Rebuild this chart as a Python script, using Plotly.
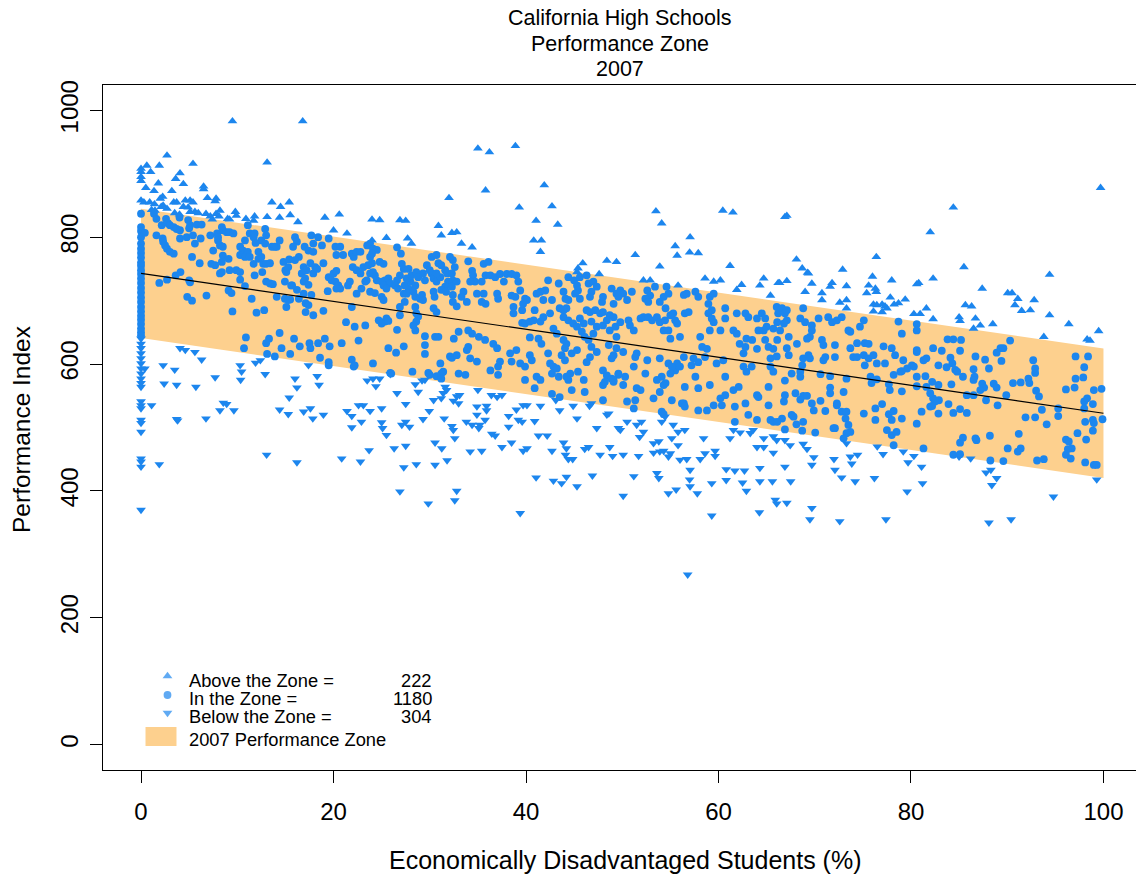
import numpy as np
import plotly.graph_objects as go

# ---------------- data ----------------
title_lines = ["California High Schools", "Performance Zone", "2007"]
x_title = "Economically Disadvantaged Students (%)"
y_title = "Performance Index"
x_ticks = [0, 20, 40, 60, 80, 100]
y_ticks = [0, 200, 400, 600, 800, 1000]

legend_labels = ["Above the Zone =", "In the Zone =", "Below the Zone ="]
legend_counts = [222, 1180, 304]
zone_label = "2007 Performance Zone"

line_x = [0, 100]
line_intercept = 743.0
line_slope = -2.205
zone_halfwidth = 102.0

above_points = [
    (0, 908), (0, 903), (0, 895), (0, 889), (0, 858),
    (9.5, 983), (2.7, 929), (5.4, 916), (0.6, 913), (1.9, 913), (1.0, 903), (4.05, 901), (3.6, 892),
    (4.4, 884), (1.8, 885), (0.5, 878), (1.35, 873), (3.2, 873), (6.5, 880), (6.5, 876), (2.25, 864),
    (2.0, 861), (6.9, 862), (7.8, 861), (7.7, 857), (13.1, 918), (0.3, 855), (0.9, 855), (1.4, 852),
    (2.3, 850), (3.4, 855), (3.7, 855), (4.6, 858), (5.1, 858), (5.4, 855), (4.4, 848), (4.9, 847),
    (2.7, 845), (2.1, 848), (5.6, 840), (5.1, 840), (5.95, 838), (6.75, 837), (8.2, 842), (7.8, 837),
    (9.8, 840), (9.9, 834), (10.9, 829), (11.8, 833), (11.7, 826), (13.1, 832), (13.6, 855), (14.5, 848),
    (15.4, 855), (15.5, 835), (14.4, 831), (16.3, 824), (9.0, 829), (9.2, 828), (7.2, 833), (7.4, 828),
    (8.1, 833), (3.5, 838), (4.0, 836), (1.45, 842), (1.1, 843),
    (16.8, 983), (32.0, 862), (19.1, 831), (20.6, 836), (20.0, 811), (21.4, 806), (24.0, 828),
    (24.8, 827), (26.9, 827), (27.5, 826), (25.5, 799), (27.7, 798), (28.1, 790), (24.0, 795), (30.9, 818),
    (31.2, 803), (32.3, 807), (32.8, 808),
    (35.0, 940), (36.2, 934), (38.9, 944), (35.8, 874), (41.9, 882), (39.3, 847), (42.7, 849), (41.05, 826),
    (43.3, 820), (33.3, 790), (34.4, 784), (40.8, 795), (41.6, 795), (41.5, 777), (45.9, 759), (45.4, 751),
    (45.3, 745), (48.4, 763), (49.4, 761), (47.6, 742),
    (53.5, 841), (54.1, 822), (60.45, 842), (61.5, 839), (57.05, 800), (55.5, 786), (55.7, 771), (57.0, 776),
    (57.9, 775), (51.35, 772), (53.9, 754), (61.2, 755), (52.2, 732), (52.9, 732), (55.8, 724), (58.6, 735),
    (59.5, 730), (60.2, 732), (62.4, 725), (61.9, 717), (64.7, 735), (64.3, 724), (65.4, 708), (66.2, 728),
    (66.9, 832), (67.1, 834), (82.0, 808), (68.1, 765), (76.4, 769), (68.7, 751), (69.25, 744), (69.35, 743),
    (72.9, 749), (76.0, 738), (66.35, 728), (67.1, 731), (69.7, 727), (71.8, 728), (71.6, 722), (73.3, 723),
    (69.0, 714), (70.75, 712), (70.75, 701), (72.6, 697), (73.3, 701), (73.3, 688), (75.4, 712), (75.6, 724),
    (76.3, 719), (76.4, 714), (76.1, 694), (76.45, 693), (77.0, 694), (77.3, 691), (77.5, 688), (77.85, 705),
    (78.0, 732), (78.25, 694), (78.7, 696), (79.4, 702), (77.0, 682), (76.1, 683), (80.6, 726), (80.8, 728),
    (82.3, 735), (80.3, 679), (80.95, 679), (81.6, 688), (82.3, 671),
    (99.7, 878), (84.4, 847), (85.5, 753), (94.4, 741), (87.4, 719), (90.05, 712), (90.5, 712), (91.1, 703),
    (92.8, 701), (90.8, 693), (91.5, 684), (92.4, 685), (85.65, 693), (86.3, 691), (85.0, 674), (85.1, 668),
    (86.7, 672), (87.2, 661), (88.5, 663), (86.5, 656), (94.4, 677), (96.4, 663), (93.8, 643), (99.5, 652),
    (98.3, 639), (98.6, 637),
]

below_points = [
    (0, 640), (0, 632), (0, 625), (0, 617), (0, 609), (0, 601), (0, 593), (0, 585), (0, 577), (0, 570),
    (0, 564), (0, 541), (0, 535), (0, 530), (0, 512), (0, 507), (0, 493), (0, 451), (0, 446), (0, 438),
    (0, 370),
    (4.05, 625), (4.6, 622), (5.6, 619), (6.3, 607), (2.3, 598), (3.5, 591), (0.4, 593), (2.4, 569),
    (3.7, 567), (5.7, 564), (7.7, 579), (10.3, 598), (10.45, 588), (10.35, 575), (11.9, 602), (12.4, 606),
    (12.9, 584), (16.0, 577), (16.2, 563), (15.4, 547), (1.1, 535), (8.55, 539), (8.9, 537), (8.2, 527),
    (9.65, 527), (14.4, 528), (15.3, 521), (3.7, 513), (3.8, 511), (6.75, 514), (1.9, 442), (13.05, 457),
    (16.2, 445),
    (17.4, 598), (18.3, 581), (18.5, 567), (23.5, 574), (24.1, 577), (24.4, 565), (24.8, 577), (25.9, 584),
    (28.5, 568), (28.8, 556), (29.2, 574), (29.5, 575), (26.6, 554), (27.5, 537), (30.4, 543), (31.2, 546),
    (31.4, 554), (31.75, 559), (31.6, 564), (32.45, 542), (33.0, 538), (32.8, 549), (22.6, 535), (23.1, 535),
    (23.8, 526), (22.9, 509), (21.4, 526), (21.9, 518), (21.9, 500), (25.0, 530), (25.0, 508), (25.1, 499),
    (25.5, 488), (16.9, 525), (17.6, 530), (17.85, 514), (18.95, 520), (27.1, 504), (27.5, 509), (27.9, 501),
    (29.3, 513), (29.95, 526), (31.5, 514), (32.3, 502), (32.45, 496), (32.6, 483), (30.55, 476), (31.25, 467),
    (31.8, 448), (27.5, 471), (26.3, 467), (23.7, 464), (20.85, 451), (22.8, 446), (27.3, 437), (28.6, 442),
    (30.55, 441), (26.9, 399), (29.85, 380), (32.8, 400), (32.6, 385),
    (33.1, 551), (35.0, 559), (36.4, 551), (37.0, 548), (37.5, 551), (34.9, 533), (35.9, 534), (35.9, 527),
    (34.9, 520), (33.8, 509), (34.4, 504), (35.2, 504), (35.1, 499), (35.75, 512), (36.45, 490), (36.8, 487),
    (38.2, 518), (39.0, 528), (39.7, 535), (40.1, 535), (39.2, 512), (39.6, 509), (40.9, 510), (41.5, 534),
    (38.2, 501), (41.3, 487), (42.2, 487), (34.2, 462), (35.4, 463), (37.5, 469), (38.5, 476), (39.7, 463),
    (40.1, 467), (42.7, 463), (43.9, 476), (44.2, 467), (44.1, 457), (44.4, 450), (44.85, 450), (43.1, 543),
    (43.5, 527), (44.9, 534), (45.3, 514), (46.6, 534), (46.8, 538), (48.4, 520), (48.6, 522), (47.35, 499),
    (46.1, 466), (46.5, 469), (47.7, 457), (48.7, 469), (49.0, 455), (49.6, 499), (41.05, 421), (42.85, 416),
    (43.7, 412), (44.2, 422), (45.3, 407), (46.9, 424), (39.4, 365),
    (50.5, 509), (49.8, 496), (51.5, 504), (52.0, 509), (51.8, 485), (52.2, 493), (54.1, 509), (54.45, 517),
    (55.3, 504), (55.8, 493), (55.15, 483), (56.5, 496), (55.8, 472), (53.25, 475), (53.8, 478), (53.25, 460),
    (53.9, 462), (54.3, 463), (55.0, 459), (54.8, 454), (50.1, 457), (51.7, 455), (51.2, 423), (50.1, 392),
    (53.6, 428), (53.8, 420), (56.0, 449), (56.7, 450), (57.05, 433), (58.1, 450), (58.6, 459), (57.0, 418),
    (57.05, 407), (54.8, 396), (55.6, 402), (57.8, 396), (59.3, 412), (59.65, 463), (59.65, 455), (58.45, 483),
    (59.3, 361), (56.8, 268), (60.8, 434), (60.8, 417), (61.7, 432), (62.7, 432), (62.5, 413), (62.9, 400),
    (61.2, 483), (61.55, 496), (62.25, 492), (63.3, 491), (63.6, 496), (64.0, 469), (64.7, 469), (64.7, 483),
    (65.7, 486), (65.7, 460), (66.05, 480), (64.3, 436), (64.3, 415), (65.6, 415), (65.9, 386), (66.05, 380),
    (64.25, 366),
    (66.9, 480), (67.45, 472), (68.8, 474), (69.2, 466), (69.9, 453), (69.7, 441), (72.0, 450), (72.1, 433),
    (72.8, 421), (73.3, 475), (73.7, 454), (73.85, 443), (74.45, 457), (76.5, 470), (77.1, 458), (79.2, 462),
    (79.7, 445), (80.3, 455), (81.1, 438), (81.2, 412), (79.6, 399), (74.2, 415), (76.2, 420), (67.5, 415),
    (67.1, 381), (69.7, 373), (69.5, 355), (72.6, 352), (77.4, 355), (66.9, 438),
    (85.0, 454), (86.2, 451), (87.8, 429), (88.3, 433), (88.9, 420), (88.4, 409), (88.1, 350), (90.4, 355),
    (94.8, 391), (99.3, 418),
]

in_points = [
    (0, 837), (0, 816), (0, 810), (0, 800), (0, 790), (0, 782), (0, 775), (0, 768), (0, 760), (0, 755),
    (0, 748), (0, 742), (0, 735), (0, 728), (0, 720), (0, 713), (0, 705), (0, 698), (0, 690), (0, 683),
    (0, 676), (0, 670), (0, 663), (0, 656), (0, 650), (0, 645),
    (0.4, 807), (1.35, 837), (1.6, 829), (1.6, 803), (2.15, 819), (2.6, 829), (2.8, 822), (3.0, 819),
    (3.4, 816), (3.7, 813), (4.05, 811), (2.25, 798), (2.3, 793), (2.5, 787), (2.7, 782), (3.0, 777),
    (3.4, 774), (4.05, 798), (4.0, 831), (4.9, 827), (5.1, 819), (5.0, 814), (4.75, 800), (5.4, 803),
    (5.6, 790), (6.2, 798), (5.8, 820), (6.3, 820), (5.3, 769), (6.1, 759), (7.3, 758), (7.7, 756),
    (7.5, 779), (7.2, 803), (7.9, 806), (8.0, 800), (8.0, 795), (8.4, 816), (8.5, 811), (8.9, 808),
    (9.2, 808), (9.6, 806), (8.2, 787), (8.5, 785), (8.5, 771), (8.4, 761), (8.2, 743), (8.4, 745),
    (9.1, 766), (9.2, 748), (9.9, 748), (10.3, 745), (10.3, 785), (10.6, 779), (10.3, 772), (10.8, 769),
    (11.1, 819), (11.3, 806), (11.7, 800), (11.8, 806), (10.8, 795), (11.1, 777), (11.3, 769), (11.7, 758),
    (12.2, 766), (12.5, 769), (12.2, 777), (12.5, 795), (12.9, 790), (11.9, 791), (12.9, 813), (13.0, 803),
    (12.7, 758), (13.0, 758), (13.4, 759), (12.6, 745), (11.8, 740), (13.0, 730), (13.4, 727), (13.7, 726),
    (13.6, 785), (13.9, 785), (14.1, 785), (14.4, 795), (14.8, 761), (15.0, 748), (15.1, 745), (15.3, 753),
    (15.4, 765), (14.95, 730), (15.6, 724), (14.1, 706), (14.95, 703), (15.3, 701), (15.1, 690), (1.9, 728),
    (2.7, 733), (3.6, 740), (4.1, 745), (5.0, 732), (5.1, 729), (6.8, 708), (4.8, 706), (5.3, 700),
    (9.1, 716), (9.4, 712), (9.5, 683), (10.8, 723), (11.5, 703), (12.0, 681), (12.8, 685), (10.3, 733),
    (10.9, 642), (10.7, 625), (13.0, 633), (13.3, 640), (14.4, 649), (13.1, 616), (13.9, 612), (14.6, 625),
    (16.0, 800), (16.2, 793), (15.8, 785), (16.4, 769), (16.0, 764), (17.0, 785), (17.4, 779), (17.9, 777),
    (17.9, 790), (17.7, 803), (18.4, 800), (18.8, 787), (19.5, 798), (16.9, 753), (17.2, 748), (16.7, 743),
    (17.05, 735), (16.9, 730), (17.6, 759), (18.1, 753), (17.9, 743), (18.95, 759), (18.3, 750), (17.4, 725),
    (16.2, 717), (16.4, 703), (16.9, 711), (17.7, 709), (15.7, 724), (15.5, 702), (19.5, 737), (19.8, 732),
    (20.2, 730), (20.5, 724), (20.7, 719), (20.3, 719), (20.0, 743), (20.3, 747), (19.4, 715), (20.2, 785),
    (20.7, 785), (21.0, 772), (20.3, 772), (21.9, 774), (22.1, 769), (22.4, 777), (22.8, 777), (22.0, 753),
    (21.7, 730), (21.5, 724), (22.4, 748), (22.8, 743), (22.4, 711), (22.9, 719), (23.3, 730), (23.45, 732),
    (23.1, 753), (23.6, 756), (24.0, 759), (23.8, 769), (23.5, 787), (23.8, 790), (24.1, 782), (24.5, 780),
    (24.0, 774), (24.8, 761), (25.2, 758), (23.8, 743), (24.3, 740), (24.5, 732), (25.0, 730), (24.1, 745),
    (23.8, 714), (24.3, 712), (25.35, 732), (25.7, 735), (25.9, 727), (25.2, 724), (25.5, 719), (25.0, 706),
    (25.2, 701), (26.6, 784), (27.0, 774), (27.1, 758), (27.3, 750), (26.9, 740), (26.6, 732), (26.4, 724),
    (26.7, 719), (27.3, 711), (27.6, 711), (27.8, 719), (27.4, 724), (28.0, 730), (27.6, 735), (27.8, 750),
    (28.1, 740), (28.6, 745), (28.8, 737), (28.5, 724), (28.3, 714), (28.5, 706), (29.0, 703), (29.2, 709),
    (29.3, 701), (29.5, 732), (29.3, 743), (29.7, 756), (30.0, 748), (30.2, 743), (30.4, 735), (30.7, 730),
    (31.1, 737), (30.7, 743), (30.2, 769), (30.7, 772), (30.9, 759), (31.2, 756), (31.6, 748), (31.8, 743),
    (32.1, 769), (32.4, 764), (32.6, 753), (32.3, 743), (32.4, 732), (32.8, 730), (31.9, 730), (31.6, 722),
    (31.2, 717), (31.7, 714), (32.4, 709), (32.4, 698), (32.8, 691), (30.4, 714), (30.5, 706), (30.4, 688),
    (30.7, 682), (28.5, 690), (28.6, 680), (28.8, 675), (28.6, 667), (28.5, 653), (28.3, 661), (26.9, 690),
    (27.4, 698), (26.9, 677), (26.6, 654), (25.5, 672), (25.35, 667), (25.0, 664), (24.7, 669), (25.7, 668),
    (23.3, 661), (22.2, 659), (21.3, 666), (21.9, 690), (18.95, 684), (17.9, 677), (17.1, 682), (17.1, 696),
    (17.4, 693), (15.9, 640), (16.5, 628), (17.5, 633), (17.6, 625), (18.4, 633), (19.1, 640), (19.6, 628),
    (20.85, 633), (15.5, 616), (18.6, 610), (19.5, 603), (19.5, 598), (21.9, 607), (22.1, 596), (22.2, 598),
    (22.6, 637), (24.1, 601), (25.7, 625), (26.5, 618), (27.3, 628), (25.9, 586), (26.0, 585), (29.5, 644),
    (30.55, 643), (30.9, 643), (29.5, 630), (29.5, 616), (28.2, 588), (29.85, 586), (30.0, 583), (30.7, 581),
    (31.2, 585), (31.2, 577), (31.4, 588), (31.1, 601), (32.3, 610), (32.8, 614), (33.0, 585),
    (32.3, 722), (34.0, 762), (34.4, 747), (34.5, 740), (34.7, 730), (34.2, 730), (33.5, 714), (33.3, 706),
    (33.85, 698), (35.6, 758), (36.1, 761), (35.8, 740), (35.4, 730), (36.3, 740), (36.8, 737), (37.3, 742),
    (37.7, 730), (34.9, 711), (35.4, 698), (35.8, 695), (35.6, 711), (37.0, 711), (37.1, 703), (38.0, 742),
    (38.5, 742), (39.0, 740), (39.2, 730), (38.5, 708), (38.9, 706), (38.7, 690), (38.7, 680), (39.6, 685),
    (39.7, 695), (39.9, 703), (39.4, 716), (40.1, 701), (41.1, 711), (41.5, 714), (42.0, 716), (41.8, 701),
    (40.9, 685), (39.6, 665), (39.9, 664), (40.4, 667), (40.8, 669), (41.5, 667), (41.8, 674), (42.3, 732),
    (42.5, 680), (42.7, 701), (43.4, 727), (43.9, 714), (44.1, 703), (44.4, 701), (44.2, 688), (43.9, 685),
    (43.5, 688), (44.4, 737), (45.0, 732), (45.3, 724), (45.4, 716), (45.1, 711), (45.6, 703), (45.6, 737),
    (46.3, 740), (46.5, 727), (47.0, 730), (47.35, 722), (46.8, 714), (46.65, 706), (46.3, 685), (46.65, 682),
    (47.2, 685), (47.7, 680), (48.0, 682), (48.7, 677), (47.9, 698), (48.0, 706), (48.9, 719), (49.1, 695),
    (49.4, 711), (43.9, 674), (44.4, 669), (44.9, 664), (45.3, 659), (45.8, 651), (46.1, 643), (46.5, 638),
    (45.6, 672), (46.0, 664), (46.8, 667), (47.35, 659), (48.0, 661), (48.4, 669), (48.7, 653), (49.4, 643),
    (42.85, 656), (43.2, 648), (43.9, 638), (44.2, 632), (44.05, 625), (43.7, 614), (44.05, 606), (44.75, 617),
    (45.3, 622), (42.3, 617), (42.5, 601), (42.85, 596), (41.6, 632), (41.3, 640), (40.4, 642), (40.4, 614),
    (40.6, 606), (39.4, 601), (39.9, 596), (38.35, 617), (39.0, 622), (38.5, 604), (37.1, 596), (37.3, 604),
    (37.1, 583), (36.3, 590), (36.6, 632), (37.0, 625), (35.75, 638), (35.1, 643), (34.4, 648), (34.0, 653),
    (34.0, 627), (33.85, 622), (34.2, 609), (34.9, 604), (33.0, 651), (32.5, 640), (32.1, 612), (33.7, 583),
    (39.9, 575), (41.1, 580), (41.5, 575), (40.9, 562), (42.7, 585), (43.2, 593), (43.4, 580), (44.2, 580),
    (44.6, 585), (44.4, 575), (44.75, 559), (45.4, 588), (46.0, 575), (46.1, 556), (48.0, 590), (48.4, 582),
    (48.9, 577), (49.1, 572), (48.0, 567), (48.2, 572), (48.9, 609), (49.1, 614), (48.6, 630), (49.4, 625),
    (49.6, 585), (46.8, 627), (47.35, 619), (46.65, 611), (46.3, 603), (47.0, 648), (48.0, 543), (42.7, 553),
    (43.5, 548),
    (49.8, 716), (50.1, 711), (49.6, 706), (50.5, 701), (51.0, 714), (49.1, 674), (49.3, 659), (49.8, 666),
    (50.65, 669), (50.8, 661), (51.2, 653), (51.9, 672), (52.2, 674), (52.6, 716), (52.9, 708), (52.4, 703),
    (52.7, 698), (53.4, 722), (53.9, 698), (54.3, 706), (54.6, 722), (54.8, 711), (54.5, 688), (52.7, 674),
    (53.1, 669), (53.6, 674), (53.9, 666), (54.45, 669), (55.0, 677), (55.3, 680), (55.5, 669), (55.7, 664),
    (54.8, 653), (55.0, 640), (54.3, 653), (56.4, 709), (56.7, 711), (56.5, 680), (56.9, 682), (57.6, 714),
    (57.9, 706), (56.0, 643), (58.95, 695), (59.1, 706), (59.5, 711), (59.3, 685), (58.95, 680), (59.3, 672),
    (59.5, 666), (60.2, 653), (59.1, 653), (60.7, 672), (60.7, 688), (61.9, 680), (62.8, 680), (63.1, 674),
    (64.0, 672), (64.5, 680), (64.85, 672), (65.0, 659), (64.7, 653), (64.15, 653), (65.7, 656), (66.05, 690),
    (66.2, 680), (61.55, 653), (61.9, 648), (62.2, 632), (62.9, 640), (63.5, 638), (62.8, 627), (62.6, 617),
    (64.0, 624), (64.85, 638), (65.2, 627), (65.7, 624), (65.4, 609), (66.05, 612), (58.1, 643), (58.3, 627),
    (58.8, 624), (58.6, 611), (57.9, 603), (57.4, 609), (57.2, 598), (57.6, 580), (59.8, 601), (60.5, 606),
    (60.7, 580), (59.1, 567), (57.9, 562), (55.7, 601), (55.5, 590), (56.0, 596), (56.4, 611), (56.5, 564),
    (56.4, 538), (53.9, 609), (54.8, 601), (55.15, 596), (54.1, 580), (54.5, 570), (55.0, 585), (53.6, 575),
    (52.6, 606), (52.4, 585), (51.9, 559), (51.5, 562), (53.25, 546), (53.9, 556), (54.3, 567), (50.1, 619),
    (51.35, 611), (51.5, 617), (51.2, 596), (50.3, 580), (49.6, 583), (50.1, 567), (49.1, 575), (50.5, 541),
    (51.2, 530), (51.35, 543), (54.1, 525), (54.3, 521), (55.15, 543), (56.2, 538), (56.5, 533), (57.9, 527),
    (58.8, 527), (59.5, 535), (60.2, 546), (60.7, 551), (60.35, 535), (61.55, 559), (62.1, 564), (61.7, 533),
    (62.8, 538), (63.1, 520), (64.0, 551), (64.15, 548), (65.2, 535), (65.2, 564), (65.4, 512), (65.7, 509),
    (64.0, 512), (61.7, 509), (62.6, 596), (62.9, 588), (63.45, 596),
    (66.6, 688), (66.9, 680), (67.1, 669), (66.8, 664), (66.4, 653), (66.1, 666), (67.1, 685), (68.8, 688),
    (68.5, 672), (69.0, 666), (69.7, 661), (69.7, 653), (69.5, 643), (69.2, 640), (70.4, 672), (71.4, 674),
    (71.8, 666), (72.3, 669), (72.8, 674), (73.5, 653), (73.7, 651), (74.7, 659), (75.1, 669), (66.1, 638),
    (67.3, 643), (67.1, 625), (67.3, 614), (68.15, 632), (65.4, 596), (65.7, 588), (68.8, 609), (68.7, 598),
    (69.35, 614), (69.5, 609), (70.75, 638), (70.9, 630), (71.1, 611), (70.9, 606), (72.1, 630), (72.1, 611),
    (73.7, 625), (74.0, 611), (74.4, 611), (74.4, 633), (75.2, 633), (75.6, 632), (75.1, 614), (75.6, 609),
    (76.1, 614), (75.2, 598), (76.45, 601), (77.3, 601), (77.15, 628), (78.0, 625), (78.35, 614), (79.2, 606),
    (78.9, 588), (79.6, 593), (80.1, 598), (80.3, 596), (80.6, 619), (80.6, 622), (81.3, 606), (81.6, 609),
    (82.3, 625), (82.85, 598), (78.7, 667), (79.05, 648), (80.6, 663), (80.6, 653), (66.9, 574), (67.6, 585),
    (68.5, 588), (68.5, 580), (70.6, 584), (71.6, 581), (73.3, 577), (75.8, 580), (75.9, 570), (76.45, 576),
    (77.7, 568), (77.8, 559), (79.05, 557), (78.2, 583), (79.05, 589), (80.6, 580), (81.5, 581), (82.2, 572),
    (80.6, 565), (81.6, 564), (82.85, 567), (66.8, 541), (66.9, 551), (68.0, 554), (68.5, 544), (68.8, 550),
    (69.2, 550), (69.7, 538), (69.9, 527), (70.6, 542), (71.6, 554), (71.6, 563), (72.3, 538), (72.3, 535),
    (73.0, 556), (71.1, 526), (72.1, 499), (72.8, 525), (73.3, 525), (73.2, 514), (73.5, 504), (73.7, 493),
    (73.3, 491), (73.0, 483), (75.1, 522), (76.3, 530), (77.0, 537), (76.3, 512), (77.7, 521), (78.2, 526),
    (78.0, 512), (77.5, 496), (78.0, 488), (78.5, 493), (78.2, 472), (79.05, 514), (80.6, 506), (81.1, 525),
    (82.0, 533), (82.3, 546), (82.85, 522), (81.3, 467), (66.6, 514), (66.1, 509), (66.9, 497), (67.6, 520),
    (67.8, 517), (68.1, 505), (68.7, 495), (68.8, 509), (70.05, 492), (71.95, 499),
    (83.2, 621), (84.1, 610), (84.3, 601), (84.6, 591), (84.8, 588), (83.7, 595), (85.4, 580), (84.2, 568),
    (82.0, 554), (82.9, 543), (82.5, 541), (82.2, 534), (83.9, 537), (84.4, 523), (85.1, 529), (85.8, 523),
    (83.8, 639), (84.4, 639), (85.2, 638), (85.1, 621), (86.7, 612), (86.5, 592), (86.6, 580), (86.5, 575),
    (87.7, 607), (88.1, 593), (87.4, 569), (87.6, 563), (87.2, 559), (87.8, 543), (85.8, 551), (86.5, 551),
    (88.6, 569), (88.9, 563), (89.0, 535), (89.9, 551), (88.9, 618), (89.3, 625), (89.6, 625), (89.4, 605),
    (90.3, 637), (90.6, 570), (91.4, 571), (92.2, 577), (92.3, 570), (92.7, 606), (92.9, 593), (92.9, 586),
    (93.0, 558), (93.3, 549), (93.6, 528), (94.1, 505), (95.3, 530), (95.3, 518), (92.9, 516), (91.9, 516),
    (96.1, 560), (97.0, 563), (97.1, 577), (97.9, 579), (98.0, 595), (98.4, 612), (97.1, 612), (99.0, 559),
    (99.8, 561), (98.9, 537), (98.0, 530), (98.0, 541), (98.3, 546), (98.1, 509), (98.9, 512), (99.0, 507),
    (98.9, 495), (99.9, 513), (97.3, 491), (98.2, 481), (96.1, 481), (96.4, 478), (96.7, 467), (96.3, 466),
    (96.1, 457), (96.6, 451), (98.1, 445), (99.0, 441), (99.3, 441), (85.4, 484), (85.1, 476), (86.7, 483),
    (86.8, 480), (88.2, 487), (91.2, 490), (91.4, 467), (91.1, 462), (90.05, 467), (84.4, 457), (85.1, 458),
    (88.25, 448), (89.6, 447), (93.1, 448), (93.8, 450),
]

# ---------------- styles ----------------
POINT_COLOR = "#1C86EE"
ZONE_COLOR = "#FDD08E"
FONT = "Liberation Sans, Arial, Helvetica, sans-serif"

W, H = 1136, 878
M_L, M_R, M_T, M_B = 103, 0, 85, 108
PW, PH = W - M_L - M_R, H - M_T - M_B


def px_x(p):
    return (p - M_L) / PW


def px_y(p):
    return (H - M_B - p) / PH


def split(points):
    xs = [p[0] for p in points]
    ys = [p[1] for p in points]
    return xs, ys


fig = go.Figure()

# performance zone band
lx = np.array(line_x, dtype=float)
fit = line_intercept + line_slope * lx
band_x = list(lx) + list(lx[::-1])
band_y = list(fit + zone_halfwidth) + list((fit - zone_halfwidth)[::-1])
fig.add_trace(go.Scatter(x=band_x, y=band_y, mode="lines", fill="toself",
                         fillcolor=ZONE_COLOR, line=dict(width=0, color=ZONE_COLOR),
                         hoverinfo="skip", showlegend=False))

ax, ay = split(above_points)
ix, iy = split(in_points)
bx, by = split(below_points)

fig.add_trace(go.Scatter(x=ix, y=iy, mode="markers", showlegend=False,
                         marker=dict(symbol="circle", size=7.8, color=POINT_COLOR, line=dict(width=0))))
fig.add_trace(go.Scatter(x=ax, y=ay, mode="markers", showlegend=False,
                         marker=dict(symbol="triangle-up", size=8.5, color=POINT_COLOR, line=dict(width=0))))
fig.add_trace(go.Scatter(x=bx, y=by, mode="markers", showlegend=False,
                         marker=dict(symbol="triangle-down", size=8.5, color=POINT_COLOR, line=dict(width=0))))

# regression line
fig.add_trace(go.Scatter(x=list(lx), y=list(fit), mode="lines", showlegend=False,
                         line=dict(color="black", width=1.2), hoverinfo="skip"))

# legend symbols on an overlay axis (paper-like 0..1)
leg_sym_x = px_x(167.5)
leg_rows_px = [676, 695, 713]
fig.add_trace(go.Scatter(x=[leg_sym_x] * 3, y=[px_y(p) for p in leg_rows_px],
                         xaxis="x2", yaxis="y2", mode="markers", showlegend=False,
                         marker=dict(symbol=["triangle-up", "circle", "triangle-down"],
                                     size=[8.5, 7.8, 8.5], color=POINT_COLOR, line=dict(width=0)),
                         hoverinfo="skip"))

annotations = []
title_px = [18, 44, 69]
for t, p in zip(title_lines, title_px):
    annotations.append(dict(text=t, x=0.5, y=px_y(p), xref="paper", yref="paper",
                            xanchor="center", yanchor="middle", showarrow=False,
                            font=dict(family=FONT, size=21.5, color="black")))

annotations.append(dict(text=x_title, x=px_x(625), y=px_y(860), xref="paper", yref="paper",
                        xanchor="center", yanchor="middle", showarrow=False,
                        font=dict(family=FONT, size=25, color="black")))
annotations.append(dict(text=y_title, x=px_x(22), y=px_y(430), xref="paper", yref="paper",
                        xanchor="center", yanchor="middle", showarrow=False, textangle=-90,
                        font=dict(family=FONT, size=24.5, color="black")))

leg_text_px = [680, 698, 716]
for lab, cnt, p in zip(legend_labels, legend_counts, leg_text_px):
    annotations.append(dict(text=lab, x=px_x(187), y=px_y(p), xref="paper", yref="paper",
                            xanchor="left", yanchor="middle", showarrow=False,
                            font=dict(family=FONT, size=18.3, color="black")))
    annotations.append(dict(text=str(cnt), x=px_x(434), y=px_y(p), xref="paper", yref="paper",
                            xanchor="right", yanchor="middle", showarrow=False,
                            font=dict(family=FONT, size=18.3, color="black")))
annotations.append(dict(text=zone_label, x=px_x(187), y=px_y(739), xref="paper", yref="paper",
                        xanchor="left", yanchor="middle", showarrow=False,
                        font=dict(family=FONT, size=18.3, color="black")))

shapes = [dict(type="rect", xref="paper", yref="paper",
               x0=px_x(145.5), x1=px_x(176.5), y0=px_y(746), y1=px_y(727),
               fillcolor=ZONE_COLOR, line=dict(width=0), layer="above")]

fig.update_layout(
    width=W, height=H,
    margin=dict(l=M_L, r=M_R, t=M_T, b=M_B, autoexpand=False),
    paper_bgcolor="white", plot_bgcolor="white",
    font=dict(family=FONT, color="black"),
    showlegend=False,
    annotations=annotations,
    shapes=shapes,
    xaxis=dict(range=[-3.95, 103.38], tickvals=x_ticks, ticktext=[str(v) for v in x_ticks],
               showgrid=False, zeroline=False, showline=True, linecolor="black", linewidth=1,
               mirror=True, ticks="outside", ticklen=12, tickcolor="black", tickwidth=1,
               tickfont=dict(family=FONT, size=24, color="black"), ticklabelstandoff=8),
    yaxis=dict(range=[-40, 1040], tickvals=y_ticks, ticktext=[str(v) for v in y_ticks],
               showgrid=False, zeroline=False, showline=True, linecolor="black", linewidth=1,
               mirror=False, ticks="outside", ticklen=12, tickcolor="black", tickwidth=1,
               tickangle=-90, tickfont=dict(family=FONT, size=24, color="black"),
               ticklabelstandoff=2),
    xaxis2=dict(range=[0, 1], overlaying="x", visible=False, domain=[0, 1]),
    yaxis2=dict(range=[0, 1], overlaying="y", visible=False, domain=[0, 1]),
)

fig.write_html("out.html", config={"displayModeBar": False},
               post_script="document.body.style.margin='0px';")
